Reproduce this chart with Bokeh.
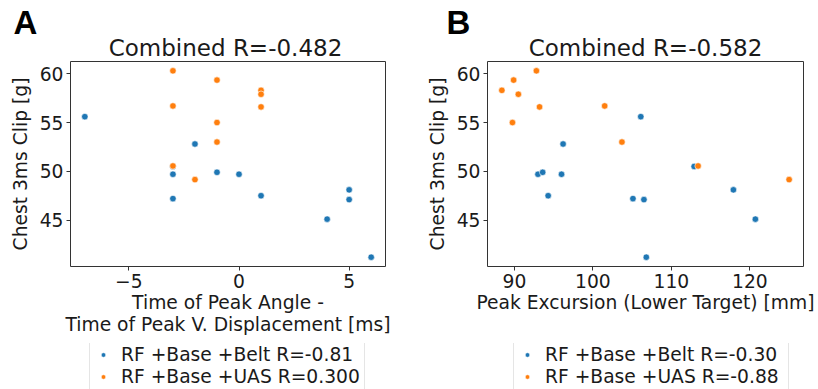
from bokeh.plotting import figure
from bokeh.layouts import row, column
from bokeh.models import Range1d, FixedTicker, Legend, LegendItem, Label
from bokeh.embed import file_html
from bokeh.resources import INLINE

# ---- data ----
belt_time = [-7, -2, -3, -3, -1, 0, 1, 4, 5, 5, 6, -3]
belt_exc = [106.1, 96.2, 93.0, 105.1, 93.6, 96.0, 94.3, 120.7, 117.9, 106.5, 106.8, 112.9]
belt_clip = [55.6, 52.8, 49.7, 47.2, 49.9, 49.7, 47.5, 45.1, 48.1, 47.1, 41.2, 50.5]

uas_time = [-3, -1, -3, 1, 1, 1, -1, -1, -3, -2]
uas_exc = [92.8, 89.9, 101.5, 88.4, 90.5, 93.2, 89.75, 103.7, 113.4, 125.0]
uas_clip = [60.3, 59.35, 56.7, 58.3, 57.9, 56.6, 55.0, 53.0, 50.55, 49.15]

panel_letters = ["A", "B"]
titles = ["Combined R=-0.482", "Combined R=-0.582"]
x_labels = ["Time of Peak Angle -\nTime of Peak V. Displacement [ms]",
            "Peak Excursion (Lower Target) [mm]"]
y_label = "Chest 3ms Clip [g]"
x_ticks = [[-5, 0, 5], [90, 100, 110, 120]]
y_ticks = [45, 50, 55, 60]
legend_labels = [["RF +Base +Belt R=-0.81", "RF +Base +UAS R=0.300"],
                 ["RF +Base +Belt R=-0.30", "RF +Base +UAS R=-0.88"]]

BLUE = "#1f77b4"
ORANGE = "#ff7f0e"
FONT = "DejaVu Sans"
TXT = "#1a1a1a"
FS = "18.7px"
W = 409
TOP_H = 61
BOT_H = 46
MID_H = 389 - TOP_H - BOT_H


def padded(vals):
    lo, hi = min(vals), max(vals)
    m = (hi - lo) * 0.05
    return lo - m, hi + m


def blank(h):
    f = figure(width=W, height=h, output_backend="svg", toolbar_location=None,
               x_range=Range1d(0, 1), y_range=Range1d(0, 1),
               x_axis_type=None, y_axis_type=None, min_border=0)
    f.grid.visible = False
    f.outline_line_color = None
    f.background_fill_color = "white"
    f.border_fill_color = "white"
    return f


def header_strip(i, letter_x, title_x):
    f = blank(TOP_H)
    f.add_layout(Label(x=letter_x, y=TOP_H - 22, x_units="screen", y_units="screen",
                       text=panel_letters[i], text_font="Liberation Sans",
                       text_font_style="bold", text_font_size="33px",
                       text_color="black", text_baseline="middle"))
    f.add_layout(Label(x=title_x, y=1, x_units="screen", y_units="screen",
                       text=titles[i], text_font=FONT, text_font_size="23px",
                       text_color=TXT, text_align="center", text_baseline="bottom"))
    return f


def legend_strip(i, x):
    f = blank(BOT_H)
    lb = f.scatter([5], [5], size=4.5, fill_color=BLUE, line_color="white", line_width=0.4)
    lu = f.scatter([5], [5], size=4.5, fill_color=ORANGE, line_color="white", line_width=0.4)
    legend = Legend(items=[LegendItem(label=legend_labels[i][0], renderers=[lb]),
                           LegendItem(label=legend_labels[i][1], renderers=[lu])],
                    location=(x, -1), orientation="vertical",
                    label_text_font=FONT, label_text_font_size=FS,
                    label_text_color=TXT,
                    glyph_width=22, glyph_height=11, label_height=22, label_width=241,
                    spacing=0, padding=2, margin=0, label_standoff=7,
                    border_line_color="#cccccc", border_line_width=1,
                    background_fill_color="white", background_fill_alpha=0.8)
    f.add_layout(legend, "center")
    return f


def make_panel(i, bx, ux, border_left, border_right):
    xr = padded(bx + ux)
    yr = padded(belt_clip + uas_clip)
    p = figure(width=W, height=MID_H, output_backend="svg", toolbar_location=None,
               x_range=Range1d(*xr), y_range=Range1d(*yr),
               min_border_left=border_left, min_border_right=border_right,
               min_border_top=0, min_border_bottom=77)
    p.grid.visible = False
    p.outline_line_color = "#333333"
    p.outline_line_width = 1
    p.background_fill_color = "white"
    p.border_fill_color = "white"

    for ax in (p.xaxis[0], p.yaxis[0]):
        ax.axis_line_color = None
        ax.major_tick_line_color = "#333333"
        ax.major_tick_out = 4
        ax.major_tick_in = 0
        ax.minor_tick_line_color = None
        ax.major_label_text_font = FONT
        ax.major_label_text_font_size = FS
        ax.major_label_text_color = TXT
        ax.axis_label_text_font = FONT
        ax.axis_label_text_font_size = FS
        ax.axis_label_text_font_style = "normal"
        ax.axis_label_text_color = TXT
        ax.axis_label_text_line_height = 1.05
        ax.major_label_standoff = 3

    p.xaxis.ticker = FixedTicker(ticks=x_ticks[i])
    p.yaxis.ticker = FixedTicker(ticks=y_ticks)
    p.xaxis.major_label_overrides = {t: str(t).replace("-", "\u2212") for t in x_ticks[i]}
    p.xaxis.axis_label = x_labels[i]
    p.yaxis.axis_label = y_label
    p.xaxis.axis_label_standoff = 1
    p.yaxis.axis_label_standoff = 6

    p.scatter(bx, belt_clip, size=6.5, fill_color=BLUE, line_color="white", line_width=0.6)
    p.scatter(ux, uas_clip, size=6.5, fill_color=ORANGE, line_color="white", line_width=0.6)
    return p


p1 = make_panel(0, belt_time, uas_time, 70, 24)
p2 = make_panel(1, belt_exc, uas_exc, 78, 15)

layout = column(
    row(header_strip(0, 13, 225), header_strip(1, 37, 236), spacing=0),
    row(p1, p2, spacing=0),
    row(legend_strip(0, 89), legend_strip(1, 104), spacing=0),
    spacing=0)
open("out.html", "w").write(file_html(layout, INLINE))
